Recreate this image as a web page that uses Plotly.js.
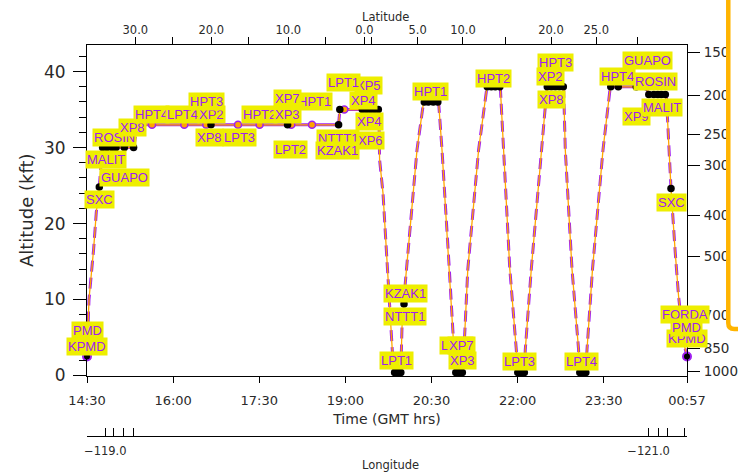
<!DOCTYPE html>
<html>
<head>
<meta charset="utf-8">
<script src="https://cdn.plot.ly/plotly-3.0.1.min.js"></script>
<style>html,body{margin:0;padding:0;background:#fff}#chart{width:738px;height:473px}</style>
</head>
<body>
<div id="chart"></div>
<script>
// Aircraft altitude profile: GMT clock time and altitude (kft)
const flightTime = ['14:30:00','14:32:05','14:36:54','14:39:43','14:42:51','14:44:25','14:45:59','15:18:42','15:22:53','18:52:55',
  '18:54:11','19:34:56','19:35:46','19:39:19','19:45:10','19:50:24','19:57:55','19:59:11','20:02:37','20:14:51',
  '20:21:45','20:37:25','20:40:59','20:48:37','20:52:47','20:54:52','21:02:11','21:04:17','21:07:56','21:19:13',
  '21:28:00','21:41:54','21:45:21','21:51:50','21:58:37','21:59:40','22:06:59','22:08:01','22:14:17','22:25:28',
  '22:30:42','22:48:03','22:49:49','22:56:50','23:03:43','23:04:27','23:11:15','23:12:30','23:18:15','23:29:13',
  '23:36:51','00:14:28','00:16:34','00:35:22','00:40:17','00:44:46','00:48:13','00:53:27','00:57:00'];
const flightAlt = [2.5,10.0,16.6,21.5,24.8,27.5,30.0,30.0,33.0,33.0,
  35.0,35.0,28.4,24.0,12.1,0.4,0.4,6.4,12.2,29.7,
  36.0,36.0,29.7,14.0,4.0,0.4,0.4,4.3,14.0,29.7,
  38.0,38.0,29.7,14.0,3.4,0.4,0.4,3.4,14.0,29.7,
  38.0,38.0,29.7,14.0,3.4,0.4,0.4,3.4,14.0,29.7,
  38.0,38.0,37.0,37.0,24.6,16.1,10.4,4.4,2.5];

// Waypoint fixes along the track
const fixTime = ['14:42:51','14:46:18','14:50:54','14:56:08','15:00:18','15:08:59','15:18:42','15:22:53','16:39:35','17:59:38',
  '18:52:55','18:54:11','19:17:41','19:21:52','19:26:03','19:30:14','19:34:25','19:51:27','19:54:35','19:57:55',
  '20:01:16','20:22:29','20:26:40','20:31:53','20:36:35','20:55:24','20:59:03','21:02:11','21:28:19','21:32:29',
  '21:36:40','21:41:23','22:00:11','22:03:50','22:06:59','22:31:01','22:35:11','22:39:22','22:43:33','22:47:44',
  '23:04:59','23:08:07','23:11:15','23:37:22','23:45:13','00:04:01','00:14:28','00:17:05','00:22:19','00:26:29',
  '00:30:09','00:34:20','00:40:17','00:53:27'];
const fixAlt = [24.8,30,30,30,30,30,30,33,33,33,
  33,35,35,35,35,35,35,0.4,0.4,0.4,
  9.4,36,36,36,36,0.4,0.4,0.4,38,38,
  38,38,0.4,0.4,0.4,38,38,38,38,38,
  0.4,0.4,0.4,38,38,38,38,37,37,37,
  37,37,24.6,4.4];

// Flight-plan points on the cruise legs
const planTime = ['15:37:56','16:11:41','16:34:40','17:07:48','17:30:22','18:03:29','18:25:08','18:58:53'];
const planAlt = [33,33,33,33,33,33,33,35];

// Take-off and landing at Palmdale
const endTime = ['14:30:00','00:57:00'];
const endAlt = [2.5,2.5];

// Waypoint names
const labelText = ['PMD','KPMD','SXC','MALIT','GUAPO','ROSIN','XP8','HPT4','LPT4','XP2',
  'HPT3','XP8','LPT3','HPT2','XP3','HPT1','XP7','LPT2','XP6','NTTT1',
  'KZAK1','XP5','LPT1','XP4','XP4','KZAK1','NTTT1','LPT1','HPT1','LPT2',
  'XP3','XP7','HPT2','LPT3','XP2','HPT3','XP8','LPT4','HPT4','XP9',
  'GUAPO','ROSIN','MALIT','SXC','FORDA','KPMD','PMD'];
const labelTime = ['14:30:05','14:30:05','14:42:51','14:49:39','15:08:59','14:58:32','15:17:20','15:37:11','16:10:07','16:39:53',
  '16:34:40','16:38:20','17:09:09','17:30:03','17:59:50','18:27:32','17:59:50','18:02:27','19:26:03','18:52:37',
  '18:51:34','19:23:58','18:57:56','19:18:44','19:25:01','20:02:19','20:02:37','19:53:13','20:29:16','20:55:55',
  '21:01:53','21:01:09','21:34:35','22:01:45','22:34:40','22:39:54','22:35:11','23:06:32','23:44:41','00:04:01',
  '00:15:12','00:23:52','00:30:53','00:40:35','00:55:13','00:56:50','00:56:50'];
const labelAlt = [5.86,3.88,23.16,28.42,26.12,31.32,32.70,34.41,34.41,34.41,
  36.12,31.32,31.32,34.41,34.41,36.12,36.45,29.80,30.99,31.18,
  29.61,38.22,38.62,36.25,33.39,10.86,7.74,1.93,37.34,4.01,
  2.04,4.01,39.14,1.91,39.32,41.16,36.34,1.91,39.32,34.08,
  41.45,38.66,35.26,22.83,8.09,4.93,6.32];

// Time axis ticks
const timeTicks = ['14:30','16:00','17:30','19:00','20:30','22:00','23:30','00:57'];
// Latitude along the track
const latTickTime = ['15:20:30','15:59:30','16:39:54','17:18:54','18:00:24','18:39:00','19:19:48','19:27:48','20:15:30','21:02:54','21:47:06','22:34:54','23:22:12','00:04:48'];
const latTickText = ['30.0','','20.0','','10.0','','0.0','','5.0','10.0','','20.0','25.0',''];
// Longitude along the track
const lonTickTime = ['14:49:06','14:57:48','15:08:12','15:18:42','00:16:54','00:27:18','00:36:06','00:54:12','00:57:00'];
const lonTickText = ['\u2212119.0','','','','\u2212121.0','','','',''];
// Pressure levels (hPa) and their altitude (kft)
const pressLabel = ['150','200','250','300','400','500','700','850','1000'];
const pressAlt = [42.57,36.82,31.78,27.70,21.03,15.72,7.96,3.62,0.50];

function toDate(t) {
  const h = parseInt(t.slice(0, 2), 10);
  const hms = t.length === 5 ? t + ':00' : t;
  return (h < 12 ? '2000-01-02 ' : '2000-01-01 ') + hms;
}

const xRange = [toDate('14:30'), toDate('00:57')];
const yRange = [0, 43.5];

const MAGENTA = '#a020f0';
const ORANGE = '#ffa500';
const YELLOW = '#eeee00';
const INK = '#2a2a2a';

// Split the track into level legs (solid) and climbs/descents (dashed)
const levelX = [], levelY = [], slopeX = [], slopeY = [];
let lastLevel = -2, lastSlope = -2;
for (let i = 0; i < flightTime.length - 1; i++) {
  const level = Math.abs(flightAlt[i + 1] - flightAlt[i]) < 0.5;
  const X = level ? levelX : slopeX, Y = level ? levelY : slopeY;
  const last = level ? lastLevel : lastSlope;
  if (last !== i) {
    if (X.length) { X.push(null); Y.push(null); }
    X.push(toDate(flightTime[i])); Y.push(flightAlt[i]);
  }
  X.push(toDate(flightTime[i + 1])); Y.push(flightAlt[i + 1]);
  if (level) lastLevel = i + 1; else lastSlope = i + 1;
}

const traces = [
  {x: levelX, y: levelY, mode: 'lines', line: {color: MAGENTA, width: 3}, hoverinfo: 'skip'},
  {x: slopeX, y: slopeY, mode: 'lines', line: {color: MAGENTA, width: 3, dash: '11px,6px'}, hoverinfo: 'skip'},
  {x: flightTime.map(toDate), y: flightAlt, mode: 'lines', line: {color: ORANGE, width: 1.3}, hoverinfo: 'skip'},
  {x: planTime.map(toDate), y: planAlt, mode: 'markers', cliponaxis: false,
   marker: {symbol: 'circle', size: 7, color: ORANGE, line: {color: MAGENTA, width: 1.5}}, hoverinfo: 'skip'},
  {x: fixTime.map(toDate), y: fixAlt, mode: 'markers', cliponaxis: false,
   marker: {symbol: 'circle', size: 7.5, color: '#000', line: {width: 0}}, hoverinfo: 'skip'},
  {x: endTime.map(toDate), y: endAlt, mode: 'markers', cliponaxis: false,
   marker: {symbol: 'circle', size: 8, color: '#000', line: {color: MAGENTA, width: 2}}, hoverinfo: 'skip'},
  // carriers for the latitude, longitude and pressure axes
  {x: [toDate(flightTime[0])], y: [flightAlt[0]], xaxis: 'x2', yaxis: 'y', mode: 'markers', marker: {opacity: 0}, hoverinfo: 'skip'},
  {x: [toDate(flightTime[0])], y: [flightAlt[0]], xaxis: 'x3', yaxis: 'y', mode: 'markers', marker: {opacity: 0}, hoverinfo: 'skip'},
  {x: [toDate(flightTime[0])], y: [flightAlt[0]], xaxis: 'x', yaxis: 'y2', mode: 'markers', marker: {opacity: 0}, hoverinfo: 'skip'}
];

const annotations = labelText.map((t, i) => ({
  text: t, x: toDate(labelTime[i]), y: labelAlt[i], xref: 'x', yref: 'y',
  showarrow: false, xanchor: 'center', yanchor: 'middle',
  bgcolor: YELLOW, borderpad: 1,
  font: {family: 'Liberation Sans Narrow, Liberation Sans, Arial, sans-serif', size: 13, color: MAGENTA}
}));
// Titles of the latitude and longitude scales
annotations.push(
  {text: 'Latitude', xref: 'paper', yref: 'paper', x: 0.4967, y: 1.0716, showarrow: false,
   xanchor: 'center', yanchor: 'middle', font: {size: 11.5, color: INK}},
  {text: 'Longitude', xref: 'paper', yref: 'paper', x: 0.505, y: -0.0742, showarrow: false,
   xanchor: 'center', yanchor: 'middle', font: {size: 11.5, color: INK}}
);

const axisCommon = {showline: true, linecolor: '#000', linewidth: 1, tickcolor: '#000', showgrid: false, zeroline: false};

const layout = {
  width: 738, height: 473,
  margin: {l: 87, r: 51, t: 45, b: 37, pad: 0},
  paper_bgcolor: '#fff', plot_bgcolor: '#fff',
  showlegend: false,
  font: {family: 'DejaVu Sans, sans-serif', color: INK},
  xaxis: Object.assign({}, axisCommon, {
    type: 'date', range: xRange, anchor: 'y',
    tickmode: 'array', tickvals: timeTicks.map(toDate), ticktext: timeTicks,
    ticks: 'outside', ticklen: 6, tickfont: {size: 13}, ticklabelstandoff: 7,
    title: {text: 'Time (GMT hrs)', font: {size: 14}, standoff: 7}
  }),
  xaxis2: Object.assign({}, axisCommon, {
    type: 'date', range: xRange, overlaying: 'x', side: 'top', anchor: 'y',
    tickmode: 'array', tickvals: latTickTime.map(toDate), ticktext: latTickText,
    ticks: 'outside', ticklen: 7, tickfont: {size: 11.5}, ticklabelstandoff: -2
  }),
  xaxis3: Object.assign({}, axisCommon, {
    type: 'date', range: xRange, overlaying: 'x', anchor: 'free', position: 0,
    tickmode: 'array', tickvals: lonTickTime.map(toDate), ticktext: lonTickText,
    ticks: 'inside', ticklen: 8, tickfont: {size: 11.5}, ticklabelstandoff: 4
  }),
  yaxis: Object.assign({}, axisCommon, {
    domain: [0.1547, 1], range: yRange, tick0: 0, dtick: 10,
    ticks: 'outside', ticklen: 13, tickfont: {size: 17}, ticklabelstandoff: 4,
    minor: {dtick: 2, tick0: 0, ticks: 'outside', ticklen: 7, tickcolor: '#000', showgrid: false},
    title: {text: 'Altitude (kft)', font: {size: 18}, standoff: 5}
  }),
  yaxis2: Object.assign({}, axisCommon, {
    range: yRange, overlaying: 'y', side: 'right', anchor: 'x',
    tickmode: 'array', tickvals: pressAlt, ticktext: pressLabel,
    ticks: 'outside', ticklen: 12, tickfont: {size: 13.5}, ticklabelstandoff: 1
  }),
  shapes: [{
    type: 'path', xref: 'paper', yref: 'paper', layer: 'above',
    path: 'M 1.0688,1.15 L 1.0688,0.2890 Q 1.0688,0.2737 1.0788,0.2737 L 1.15,0.2737 L 1.15,1.15 Z',
    fillcolor: '#ffffff', line: {color: '#ffb400', width: 4.5}
  }],
  annotations: annotations
};

Plotly.newPlot('chart', traces, layout, {staticPlot: true, displayModeBar: false});
</script>
</body>
</html>
